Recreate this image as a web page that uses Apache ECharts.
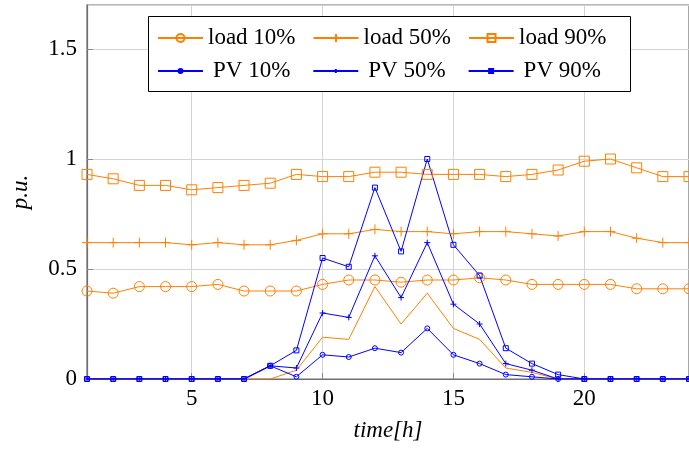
<!DOCTYPE html>
<html>
<head>
<meta charset="utf-8">
<script src="https://cdn.jsdelivr.net/npm/echarts@6/dist/echarts.min.js"></script>
<style>
  html, body { margin: 0; padding: 0; background: #fff; }
  #chart { width: 689px; height: 449px; }
</style>
</head>
<body>
<div id="chart"></div>
<script>
// Hourly profiles (p.u.)
const hours  = [1,2,3,4,5,6,7,8,9,10,11,12,13,14,15,16,17,18,19,20,21,22,23,24];
const load10 = [0.40,0.39,0.42,0.42,0.42,0.43,0.40,0.40,0.40,0.43,0.45,0.45,0.44,0.45,0.45,0.46,0.45,0.43,0.43,0.43,0.43,0.41,0.41,0.41];
const load50 = [0.62,0.62,0.62,0.62,0.61,0.62,0.61,0.61,0.63,0.66,0.66,0.68,0.67,0.67,0.66,0.67,0.67,0.66,0.65,0.67,0.67,0.64,0.62,0.62];
const load90 = [0.93,0.91,0.88,0.88,0.86,0.87,0.88,0.89,0.93,0.92,0.92,0.94,0.94,0.93,0.93,0.93,0.92,0.93,0.95,0.99,1.00,0.96,0.92,0.92];
const pv10   = [0,0,0,0,0,0,0,0.06,0.01,0.11,0.10,0.14,0.12,0.23,0.11,0.07,0.02,0.01,0,0,0,0,0,0];
const pv50   = [0,0,0,0,0,0,0,0.06,0.05,0.30,0.28,0.56,0.37,0.62,0.34,0.25,0.07,0.04,0,0,0,0,0,0];
const pv90   = [0,0,0,0,0,0,0,0.06,0.13,0.55,0.51,0.87,0.58,1.00,0.61,0.47,0.14,0.07,0.02,0,0,0,0,0];
const pvBase = [0,0,0,0,0,0,0,0,0.04,0.19,0.18,0.42,0.25,0.39,0.23,0.18,0.05,0.03,0,0,0,0,0,0];
const yTicks = [0, 0.5, 1, 1.5];

const ORANGE = '#ff8000';
const BLUE = '#0000ff';
const FONT = 'Liberation Serif';
const PLUS = 'path://M0,5L10,5M5,0L5,10';

const pairs = vals => hours.map((h, i) => [h, vals[i]]);

function series(name, vals, color, symbol, size) {
  const hollow = symbol !== PLUS;
  return {
    name: name,
    type: 'line',
    data: pairs(vals),
    symbol: symbol,
    symbolSize: size,
    showSymbol: symbol !== 'none',
    animation: false,
    lineStyle: { color: color, width: 1 },
    itemStyle: {
      color: hollow ? 'rgba(255,255,255,0)' : color,
      borderColor: color,
      borderWidth: 1
    },
    emphasis: { disabled: true }
  };
}

const chart = echarts.init(document.getElementById('chart'), null, { renderer: 'canvas' });

const legendText = { fontFamily: FONT, fontSize: 23, color: '#000', lineHeight: 24 };

chart.setOption({
  backgroundColor: '#fff',
  textStyle: { fontFamily: FONT },
  grid: {
    left: 87, right: -3, top: 5, bottom: 70,
    show: true, borderColor: '#6e6e6e', borderWidth: 1.2, backgroundColor: 'transparent'
  },
  graphic: [{
    type: 'rect',
    left: 148, top: 16, z: 3,
    shape: { width: 482, height: 75 },
    style: { fill: '#fff', stroke: '#000', lineWidth: 1 }
  }],
  legend: [{
    data: ['load 10%', 'load 50%', 'load 90%'],
    left: 157, top: 26, padding: 0,
    itemWidth: 45, itemHeight: 10, itemGap: 17,
    selectedMode: false,
    textStyle: legendText
  }, {
    data: ['PV 10%', 'PV 50%', 'PV 90%'],
    left: 157, top: 59, padding: 0,
    itemWidth: 45, itemHeight: 5, itemGap: 17,
    selectedMode: false,
    textStyle: Object.assign({}, legendText, { padding: [0, 5, 0, 5] })
  }],
  xAxis: {
    type: 'value',
    min: 1, max: 24,
    name: 'time[h]',
    nameLocation: 'middle',
    nameGap: 40,
    nameTextStyle: { fontFamily: FONT, fontSize: 23, fontStyle: 'italic', color: '#000' },
    axisLine: { show: true, lineStyle: { color: '#6e6e6e', width: 1.2 } },
    axisTick: { show: true, inside: true, length: 6, lineStyle: { color: '#8a8a8a' } },
    axisLabel: {
      showMinLabel: false, showMaxLabel: false,
      fontFamily: FONT, fontSize: 23, color: '#000', margin: 8
    },
    splitLine: { show: true, lineStyle: { color: '#d4d4d4', width: 1 } }
  },
  yAxis: {
    type: 'value',
    min: yTicks[0], max: 1.7, interval: 0.5,
    name: 'p.u.',
    nameLocation: 'middle',
    nameGap: 55,
    nameRotate: 90,
    nameTextStyle: { fontFamily: FONT, fontSize: 23, fontStyle: 'italic', color: '#000' },
    axisLine: { show: true, lineStyle: { color: '#6e6e6e', width: 1.2 } },
    axisTick: { show: true, inside: true, length: 6, lineStyle: { color: '#8a8a8a' } },
    axisLabel: {
      showMaxLabel: false,
      fontFamily: FONT, fontSize: 23, color: '#000', margin: 10,
      formatter: v => String(v)
    },
    splitLine: { show: true, lineStyle: { color: '#d4d4d4', width: 1 } }
  },
  series: [
    series('PV base', pvBase, ORANGE, 'none', 0),
    series('load 10%', load10, ORANGE, 'circle', 10),
    series('load 50%', load50, ORANGE, PLUS, 10),
    series('load 90%', load90, ORANGE, 'rect', 10),
    series('PV 10%', pv10, BLUE, 'circle', 5),
    series('PV 50%', pv50, BLUE, PLUS, 6),
    series('PV 90%', pv90, BLUE, 'rect', 5)
  ]
});
</script>
</body>
</html>
